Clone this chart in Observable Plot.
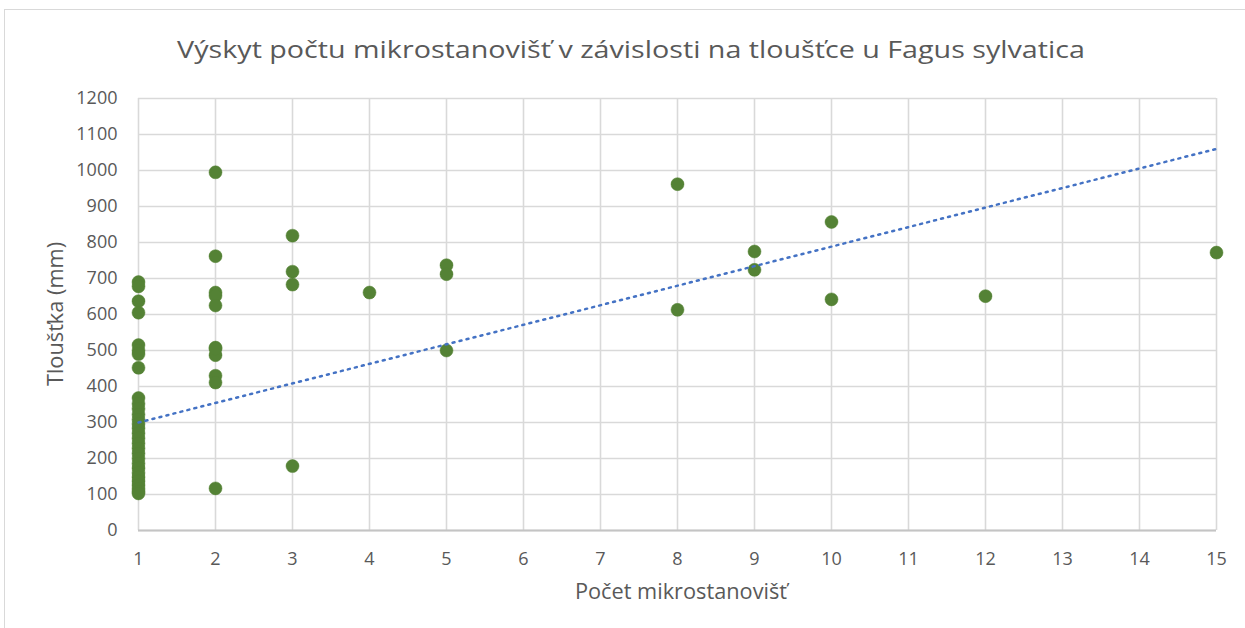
<!DOCTYPE html>
<html><head><meta charset="utf-8">
<script src="https://cdn.jsdelivr.net/npm/d3@7"></script>
<script src="https://cdn.jsdelivr.net/npm/@observablehq/plot@0.6"></script>
<style>
html,body{margin:0;padding:0;background:#fff;}
body{width:1245px;height:628px;position:relative;overflow:hidden;font-family:"Open Sans",sans-serif;color:#595959;}
#frame{position:absolute;left:4px;top:9px;width:1300px;height:700px;border:1px solid #d9d9d9;box-sizing:border-box;}
.lbl{position:absolute;white-space:nowrap;text-align:center;}
#title{left:630.5px;top:38.4px;font-size:23.5px;line-height:23.5px;transform:translateX(-50%) scaleX(1.22);}
#xlab{left:681px;top:581.4px;font-size:21px;line-height:21px;transform:translateX(-50%) scaleX(1.035);}
#ylab{left:55px;top:314px;font-size:21px;line-height:21px;transform:translate(-50%,-50%) rotate(-90deg) scaleX(1.035);}
#chart{position:absolute;left:0;top:0;}
</style></head>
<body>
<div id="frame"></div>
<div id="chart"></div>
<div id="title" class="lbl"></div>
<div id="xlab" class="lbl"></div>
<div id="ylab" class="lbl"></div>
<script>
const titleText = "Výskyt počtu mikrostanovišť v závislosti na tloušťce u Fagus sylvatica";
const xLabel = "Počet mikrostanovišť";
const yLabel = "Tloušťka (mm)";
const xTicks = [1,2,3,4,5,6,7,8,9,10,11,12,13,14,15];
const yTicks = [0,100,200,300,400,500,600,700,800,900,1000,1100,1200];

// number of microhabitats per tree
const counts = [
  1,1,1,1,1,1,1,1,1,1,1,1,1,1,1,1,1,1,1,1,1,1,1,1,1,1,1,1,1,1,
  2,2,2,2,2,2,2,2,2,2,2,
  3,3,3,3,
  4,
  5,5,5,
  8,8,
  9,9,
  10,10,
  12,
  15
];
// trunk thickness (mm)
const thickness = [
  690,678,637,605,515,500,490,452,368,352,338,322,308,296,284,270,256,242,228,214,200,186,173,160,148,137,126,116,108,103,
  995,762,661,652,625,508,487,430,411,117,505,
  819,719,683,179,
  661,
  737,712,500,
  962,613,
  775,724,
  857,642,
  651,
  772
];
// linear trendline endpoints
const trendX = [1,15];
const trendY = [300,1060];

const points = counts.map((c,i)=>({x:c, y:thickness[i]}));
const trend = trendX.map((x,i)=>({x, y:trendY[i]}));

document.getElementById("title").textContent = titleText;
document.getElementById("xlab").textContent = xLabel;
document.getElementById("ylab").textContent = yLabel;

const plot = Plot.plot({
  width:1245, height:628,
  marginLeft:138, marginRight:29, marginTop:98, marginBottom:98,
  style:{fontFamily:"'Open Sans', sans-serif", fontSize:"18px", color:"#595959", background:"transparent"},
  x:{domain:[1,15]},
  y:{domain:[0,1200]},
  marks:[
    Plot.gridX(xTicks,{stroke:"#d9d9d9", strokeOpacity:1, strokeWidth:1.6}),
    Plot.gridY(yTicks,{stroke:"#d9d9d9", strokeOpacity:1, strokeWidth:1.6}),
    Plot.ruleY([0],{stroke:"#c4c4c4", strokeWidth:2}),
    Plot.axisX(xTicks,{tickSize:0, tickPadding:22, tickFormat:d=>String(d), fill:"#595959", fontSize:18, label:null}),
    Plot.axisY(yTicks,{tickSize:0, tickPadding:21, tickFormat:d=>String(d), fill:"#595959", fontSize:18, label:null}),
    Plot.dot(points,{x:"x", y:"y", r:6.5, fill:"#548235", stroke:"#548235", strokeWidth:0.5}),
    Plot.line(trend,{x:"x", y:"y", stroke:"#4472c4", strokeWidth:2.5, strokeDasharray:"2 5.2"})
  ]
});
document.getElementById("chart").appendChild(plot);
</script>
</body></html>
